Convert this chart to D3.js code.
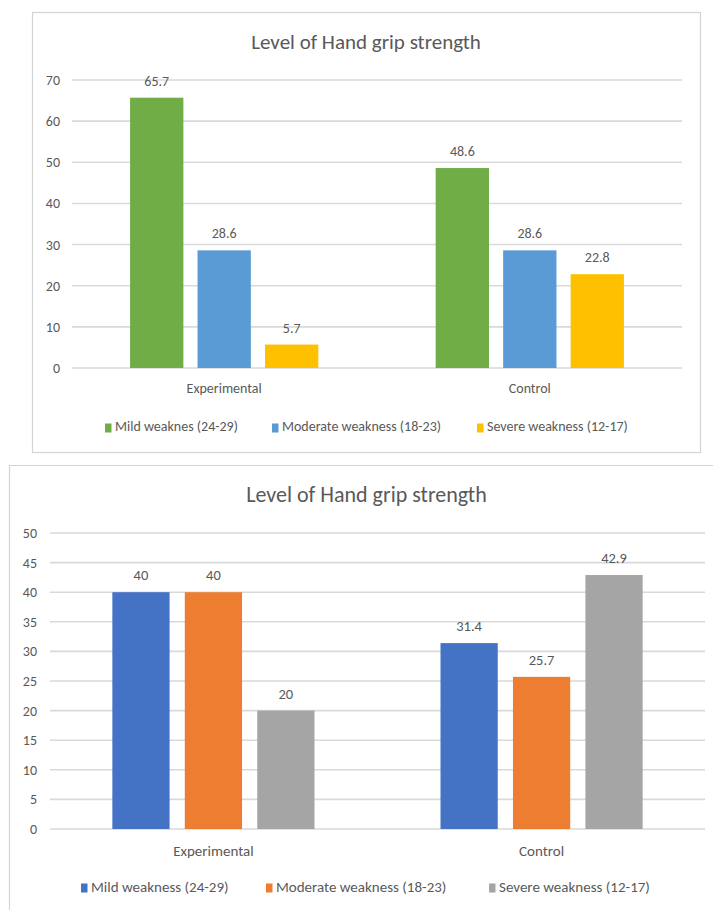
<!DOCTYPE html>
<html>
<head>
<meta charset="utf-8">
<script src="https://cdn.jsdelivr.net/npm/d3@7"></script>
<style>
  html, body { margin: 0; padding: 0; background: #ffffff; }
  svg { display: block; }
  text { font-family: Carlito, Lato, "Liberation Sans", sans-serif; fill: #595959; }
</style>
</head>
<body>
<svg id="fig" width="713" height="910"></svg>
<script>
// Groups on the category axis
const groups = ["Experimental", "Control"];

// Upper chart
const topTitle = "Level of Hand grip strength";
const topSeries = ["Mild weaknes (24-29)", "Moderate weakness (18-23)", "Severe weakness (12-17)"];
const topMild = [65.7, 48.6];
const topModerate = [28.6, 28.6];
const topSevere = [5.7, 22.8];
const topTicks = [0, 10, 20, 30, 40, 50, 60, 70];
const topColors = ["#70ad47", "#5b9bd5", "#ffc000"];

// Lower chart
const bottomTitle = "Level of Hand grip strength";
const bottomSeries = ["Mild weakness (24-29)", "Moderate weakness (18-23)", "Severe weakness (12-17)"];
const bottomMild = [40, 31.4];
const bottomModerate = [40, 25.7];
const bottomSevere = [20, 42.9];
const bottomTicks = [0, 5, 10, 15, 20, 25, 30, 35, 40, 45, 50];
const bottomColors = ["#4472c4", "#ed7d31", "#a5a5a5"];

const svg = d3.select("#fig");

function drawChart(opt) {
  const g = svg.append("g");
  const seriesValues = opt.values;
  const rows = groups.map((grp, gi) => ({
    group: grp,
    bars: opt.series.map((s, si) => ({ series: s, si, value: seriesValues[si][gi] }))
  }));

  // frame
  if (opt.frame) {
    g.append("rect")
      .attr("x", opt.frame[0] + 0.5).attr("y", opt.frame[1] + 0.5)
      .attr("width", opt.frame[2]).attr("height", opt.frame[3])
      .attr("fill", "none").attr("stroke", "#d4d4d4").attr("stroke-width", 1.2);
  }

  const y = d3.scaleLinear().domain([0, d3.max(opt.ticks)]).range([opt.y0, opt.y1]);
  const x0 = d3.scaleBand().domain(groups).range([opt.x0, opt.x1])
    .paddingInner(0.384).paddingOuter(0.19);
  const x1 = d3.scaleBand().domain(opt.series).range([0, x0.bandwidth()]).paddingInner(0.21).paddingOuter(0);

  // gridlines
  g.append("g").selectAll("line").data(opt.ticks).join("line")
    .attr("x1", opt.x0).attr("x2", opt.x1)
    .attr("y1", d => y(d)).attr("y2", d => y(d))
    .attr("stroke", "#d9d9d9").attr("stroke-width", 1.6);

  // y axis labels
  const yAxis = d3.axisLeft(y).tickValues(opt.ticks).tickSize(0).tickPadding(0);
  const ya = g.append("g").attr("transform", `translate(${opt.tickX},0)`).call(yAxis);
  ya.select(".domain").remove();
  ya.selectAll("text").attr("font-size", opt.tickSize).attr("fill", "#595959")
    .style("font-family", "Carlito, Lato, 'Liberation Sans', sans-serif");

  // bars
  const gg = g.append("g").selectAll("g").data(rows).join("g")
    .attr("transform", d => `translate(${x0(d.group)},0)`);
  gg.selectAll("rect").data(d => d.bars).join("rect")
    .attr("x", d => x1(d.series))
    .attr("width", x1.bandwidth())
    .attr("y", d => y(d.value))
    .attr("height", d => y(0) - y(d.value))
    .attr("fill", d => opt.colors[d.si]);

  // value labels
  gg.selectAll("text").data(d => d.bars).join("text")
    .attr("x", d => x1(d.series) + x1.bandwidth() / 2)
    .attr("y", d => y(d.value) - 12)
    .attr("text-anchor", "middle")
    .attr("font-size", opt.labelSize)
    .text(d => d.value);

  // category labels
  g.append("g").selectAll("text").data(groups).join("text")
    .attr("x", d => x0(d) + x0.bandwidth() / 2)
    .attr("y", opt.catY)
    .attr("text-anchor", "middle")
    .attr("dominant-baseline", "middle")
    .attr("font-size", opt.catSize)
    .text(d => d);

  // title
  g.append("text")
    .attr("x", (opt.x0 + opt.x1) / 2 + opt.titleShift)
    .attr("y", opt.titleY)
    .attr("text-anchor", "middle")
    .attr("dominant-baseline", "middle")
    .attr("font-size", opt.titleSize)
    .attr("fill", "#595959")
    .text(opt.title);

  // legend
  const lg = g.append("g").selectAll("g").data(opt.series).join("g")
    .attr("transform", (d, i) => `translate(${opt.legendX[i]},${opt.legendY})`);
  lg.append("rect").attr("x", 0).attr("y", -4.5).attr("width", 6.5).attr("height", 9)
    .attr("fill", (d, i) => opt.colors[i]);
  lg.append("text").attr("x", 10).attr("y", 0)
    .attr("dominant-baseline", "middle")
    .attr("font-size", opt.legendSize)
    .text(d => d);
}

drawChart({
  title: topTitle, series: topSeries,
  values: [topMild, topModerate, topSevere],
  ticks: topTicks, colors: topColors,
  frame: [32, 12, 668, 440],
  x0: 72, x1: 682, y0: 368, y1: 80,
  tickX: 60, tickSize: 14, labelSize: 14, catSize: 14, catY: 390,
  titleY: 44, titleSize: 21, titleShift: -11,
  legendX: [105, 272, 477], legendY: 428, legendSize: 14
});

// lower chart frame: only the top and left edges fall inside the page
svg.append("path")
  .attr("d", "M9.5,910 L9.5,465.5 L713,465.5")
  .attr("fill", "none").attr("stroke", "#d4d4d4").attr("stroke-width", 1.2);

drawChart({
  title: bottomTitle, series: bottomSeries,
  values: [bottomMild, bottomModerate, bottomSevere],
  ticks: bottomTicks, colors: bottomColors,
  frame: null,
  x0: 50, x1: 705, y0: 829, y1: 533,
  tickX: 37, tickSize: 14, labelSize: 14.5, catSize: 15, catY: 852,
  titleY: 497, titleSize: 22, titleShift: -11,
  legendX: [81, 266, 489], legendY: 888, legendSize: 15
});
</script>
</body>
</html>
